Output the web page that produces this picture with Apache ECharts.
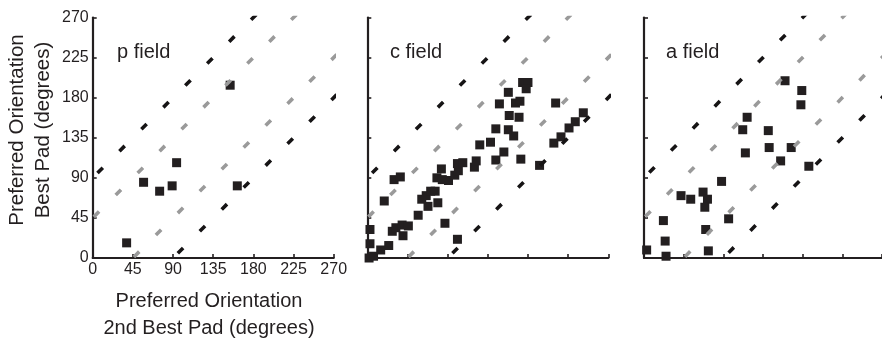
<!DOCTYPE html>
<html>
<head>
<meta charset="utf-8">
<script src="https://cdn.jsdelivr.net/npm/echarts@6/dist/echarts.min.js"></script>
<style>
  html, body { margin: 0; padding: 0; background: #fff; }
  #chart { width: 882px; height: 339px; }
</style>
</head>
<body>
<div id="chart"></div>
<script>
// preferred orientation of the 2nd best pad (x) vs best pad (y), degrees
const pField = [[38, 17], [57, 85], [75, 75], [89, 81], [94, 107], [162, 81], [154, 194]];

const cField = [
  [2, 0], [7, 2], [15, 9], [24, 14], [3, 16], [3, 32], [28, 30], [32, 34], [39, 37],
  [46, 36], [40, 25], [19, 64], [30, 88], [37, 91], [57, 48], [61, 66], [66, 70],
  [71, 75], [76, 75], [68, 58], [79, 62], [87, 39], [101, 21], [78, 90], [83, 100],
  [84, 88], [91, 87], [98, 93], [102, 98], [101, 106], [107, 107], [120, 102],
  [122, 109], [126, 127], [138, 130], [144, 110], [153, 119], [144, 145], [148, 173],
  [158, 186], [159, 160], [158, 144], [164, 137], [170, 158], [166, 174], [171, 176],
  [172, 111], [174, 197], [180, 197], [178, 190], [193, 104], [209, 129], [211, 174],
  [217, 136], [226, 146], [233, 153], [242, 163]
];

const aField = [
  [3, 9], [25, 2], [24, 19], [22, 42], [42, 70], [53, 66], [67, 74], [72, 66],
  [69, 57], [70, 32], [73, 8], [88, 86], [96, 44], [112, 144], [117, 158], [115, 118],
  [141, 143], [142, 124], [167, 124], [155, 109], [187, 103], [160, 199], [179, 188],
  [178, 172]
];

const ticks = [0, 45, 90, 135, 180, 225, 270];
const panelNames = ['p field', 'c field', 'a field'];

// reference diagonals (y = x +/- 90 black, y = x +/- 45 grey)
const blackLines = [[[-90, 0], [270, 360]], [[0, -90], [360, 270]]];
const greyLines = [[[-45, 0], [270, 315]], [[0, -45], [315, 270]]];

const FONT = 'Liberation Sans, Arial, Helvetica, sans-serif';
const INK = '#231f20';

const panels = [pField, cField, aField];
const lefts = [92.7, 367.3, 644];
const titleX = [117, 390, 666];

const myChart = echarts.init(document.getElementById('chart'), null, { renderer: 'canvas' });

const grid = lefts.map((l) => ({ left: l, top: 17.5, width: 241, height: 240.5 }));

const mkAxis = (i) => ({
  type: 'value',
  gridIndex: i,
  min: ticks[0],
  max: ticks[ticks.length - 1],
  interval: 45,
  splitLine: { show: false },
  axisLine: { show: true, lineStyle: { color: INK, width: 2.2 } },
  axisTick: { show: true, inside: true, length: 4, lineStyle: { color: INK, width: 1.6 } },
  axisLabel: { show: i === 0, color: INK, fontSize: 16, fontFamily: FONT, margin: 4 }
});

const series = [];
panels.forEach((pts, i) => {
  series.push({
    type: 'scatter',
    xAxisIndex: i,
    yAxisIndex: i,
    data: pts,
    symbol: 'rect',
    symbolSize: 9,
    itemStyle: { color: INK, opacity: 1 },
    silent: true,
    z: 2
  });
  const addLine = (seg, color) => {
    series.push({
      type: 'line',
      xAxisIndex: i,
      yAxisIndex: i,
      data: seg,
      symbol: 'none',
      clip: true,
      silent: true,
      animation: false,
      lineStyle: { color, width: 3.6, type: [7.5, 23.5], dashOffset: 3.75, cap: 'butt' },
      z: 3
    });
  };
  blackLines.forEach((seg) => addLine(seg, '#161415'));
  greyLines.forEach((seg) => addLine(seg, '#9a9a9a'));
});

const graphic = panelNames.map((t, i) => ({
  type: 'text',
  x: titleX[i],
  y: 52,
  style: { text: t, font: '20px ' + FONT, fill: INK, textVerticalAlign: 'middle' }
}));
graphic.push({
  type: 'text',
  x: 209,
  y: 315,
  style: {
    text: 'Preferred Orientation\n2nd Best Pad (degrees)',
    font: '20px ' + FONT, fill: INK, textAlign: 'center', textVerticalAlign: 'middle', lineHeight: 26.5
  }
});
graphic.push({
  type: 'text',
  x: 30,
  y: 130,
  rotation: Math.PI / 2,
  style: {
    text: 'Preferred Orientation\nBest Pad (degrees)',
    font: '20.5px ' + FONT, fill: INK, textAlign: 'center', textVerticalAlign: 'middle', lineHeight: 26
  }
});

const option = {
  animation: false,
  backgroundColor: '#fff',
  grid,
  xAxis: [0, 1, 2].map(mkAxis),
  yAxis: [0, 1, 2].map(mkAxis),
  series,
  graphic
};

myChart.setOption(option);
</script>
</body>
</html>
